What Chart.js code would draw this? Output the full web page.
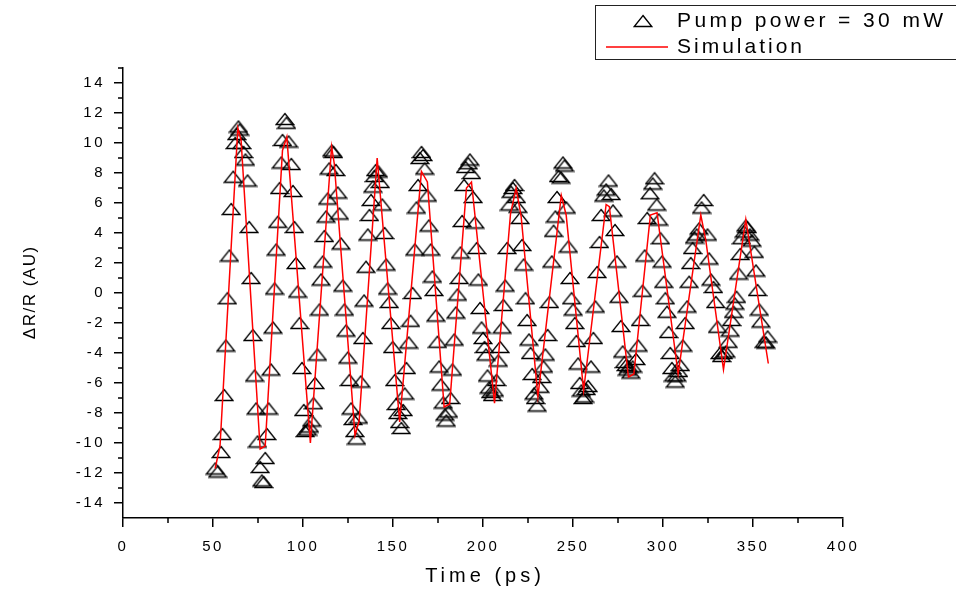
<!DOCTYPE html>
<html>
<head>
<meta charset="utf-8">
<script src="https://cdn.jsdelivr.net/npm/chart.js@4"></script>
<style>
html,body{margin:0;padding:0;background:#fff;overflow:hidden}
#wrap{width:956px;height:590px;position:relative}
</style>
</head>
<body>
<div id="wrap"><canvas id="c" width="956" height="590"></canvas></div>
<script>
// ---- measured data (Time in ps, ΔR/R in arbitrary units) ----
const timePs = [
  51.2,52.6,54.5,55.2,56.2,57.1,58.0,59.1,60.1,61.2,62.3,63.2,64.1,64.8,66.0,67.0,68.0,69.2,70.1,71.2,72.1,73.1,73.9,74.7,76.2,77.1,78.1,79.0,
  79.9,80.9,82.2,83.3,84.2,85.1,86.0,87.0,87.9,88.6,89.9,90.8,92.0,93.5,94.4,95.2,96.1,97.0,98.1,99.4,100.4,101.2,102.5,103.6,104.8,105.8,
  106.7,108.0,109.1,110.0,111.0,111.9,112.8,113.7,114.5,116.0,116.9,118.2,119.3,120.2,121.1,122.1,123.0,123.9,124.9,125.8,126.7,127.8,128.8,129.7,130.8,
  132.1,133.2,133.9,135.0,136.0,136.9,137.8,138.8,139.7,140.4,141.9,142.9,144.0,145.3,146.2,147.0,147.9,148.8,149.8,151.0,151.8,152.7,153.7,154.6,155.6,
  156.5,157.4,158.7,159.7,160.8,162.1,163.0,163.9,164.9,165.8,166.7,167.6,169.1,169.9,171.0,171.9,172.8,173.8,174.7,175.6,176.6,177.9,178.8,179.6,180.8,
  182.0,183.0,184.0,184.9,185.8,186.8,187.5,188.4,189.5,190.3,191.8,192.7,193.6,194.5,195.5,196.5,197.4,198.3,199.2,200.0,200.8,201.6,202.5,203.4,204.3,205.3,206.3,
  207.5,208.5,209.5,210.6,211.3,212.3,213.4,214.7,215.6,216.6,217.5,218.5,219.4,220.6,221.7,222.6,223.6,224.5,225.5,226.4,227.3,228.3,229.2,230.1,
  231.6,232.6,233.6,234.6,235.9,236.9,238.2,239.2,240.2,241.1,242.0,243.3,244.4,245.3,246.3,247.4,248.3,249.2,250.1,251.0,251.9,252.8,253.7,254.6,255.5,256.4,257.3,
  258.4,260.0,261.3,262.4,263.4,264.7,265.6,267.1,268.4,269.7,271.2,272.2,273.3,274.4,275.5,276.6,277.6,278.6,279.5,280.2,281.0,282.1,283.1,
  285.0,286.2,287.5,288.6,289.8,291.2,292.8,294.3,295.3,296.5,297.6,298.6,299.5,300.4,301.3,302.2,303.1,304.0,304.9,305.8,306.8,307.7,308.6,
  309.6,311.0,312.3,313.4,314.5,315.4,316.4,317.5,318.7,320.0,321.4,322.6,324.7,325.6,326.6,328.0,329.3,330.3,331.6,332.6,333.5,
  334.9,336.2,337.3,338.1,339.2,339.9,340.8,342.0,342.9,343.6,345.1,346.0,346.8,348.2,349.4,350.7,351.6,352.5,353.5,354.4,356.2,357.2,358.1
];
const deltaRR = [
  -11.7,-11.9,-10.6,-9.4,-6.8,-3.5,-0.35,2.5,5.6,7.75,10.0,10.6,11.1,10.9,10.0,9.4,8.9,7.5,4.4,1.0,-2.8,-5.5,-7.7,-9.9,-11.6,-12.5,-12.6,-11.0,
  -9.4,-7.7,-5.1,-2.3,0.3,2.9,4.75,7.0,8.7,10.2,11.6,11.35,10.1,8.6,6.8,4.4,2.0,0.1,-2.0,-5.0,-7.8,-9.2,-9.1,-8.9,-8.5,-7.35,
  -6.0,-4.1,-1.1,0.9,2.1,3.8,5.1,6.3,8.3,9.5,9.4,8.2,6.7,5.3,3.3,0.5,-1.1,-2.5,-4.3,-5.8,-7.7,-8.4,-9.2,-9.7,-8.3,
  -5.9,-3.0,-0.5,1.75,3.9,5.2,6.2,7.1,7.8,8.2,8.1,7.4,5.9,4.0,1.9,0.3,-0.6,-2.0,-3.6,-5.8,-7.4,-8.0,-8.6,-9.0,-7.8,
  -6.7,-5.0,-3.3,-1.85,0.0,2.9,5.7,7.2,9.0,9.4,9.2,8.3,6.5,4.5,2.9,1.1,0.2,-1.5,-3.25,-4.9,-6.1,-7.3,-8.1,-8.5,-7.9,
  -7.0,-5.1,-3.1,-1.3,-0.1,1.0,2.7,4.8,7.2,8.4,8.65,8.9,8.0,6.4,4.7,3.0,0.9,-1.0,-2.3,-3.0,-3.6,-4.1,-5.5,-6.3,-6.6,-6.8,-6.5,
  -5.8,-4.5,-3.6,-2.3,-0.8,0.5,3.0,5.9,6.75,7.0,7.2,6.4,5.75,5.0,3.2,1.9,-0.35,-1.8,-3.1,-4.0,-5.4,-6.7,-7.0,-7.5,
  -6.25,-5.6,-4.9,-4.1,-2.8,-0.6,2.1,4.15,5.1,6.4,7.8,7.7,8.7,8.5,5.7,3.1,1.0,-0.35,-1.1,-2.0,-3.2,-4.7,-6.0,-6.5,-7.0,-6.9,-6.4,
  -6.2,-4.9,-3.0,-0.9,1.4,3.4,5.2,6.5,6.9,7.5,6.6,5.5,4.2,2.1,-0.25,-2.2,-3.9,-4.6,-4.8,-5.1,-4.9,-5.3,-4.9,
  -4.4,-3.5,-1.8,0.15,2.5,5.0,6.65,7.3,7.65,5.9,4.9,3.65,2.1,0.75,-0.35,-1.25,-2.6,-4.0,-5.0,-5.5,-5.9,-5.5,-5.2,
  -4.8,-3.5,-2.0,-0.9,0.75,2.0,3.0,3.7,3.9,4.3,5.7,6.2,3.9,2.3,0.9,0.4,-0.6,-2.25,-4.0,-4.2,-4.0,
  -3.9,-3.25,-2.5,-1.8,-1.25,-0.7,-0.25,1.3,2.6,3.65,4.1,4.5,4.4,3.9,3.5,2.75,1.5,0.2,-1.1,-1.9,-3.25,-3.3,-2.9
];
// ---- simulation curve (vertices) ----
const simTimePs = [51.2,53.9,63.8,65.6,76.2,79.0,88.6,91.0,104.1,115.9,117.4,128.9,131.2,141.2,153.7,165.8,169.1,178.4,181.5,190.8,193.6,206.4,215.3,218.4,221.2,230.5,243.5,246.2,255.9,268.4,270.2,280.8,283.8,293.0,296.7,308.4,321.0,323.8,333.6,346.0,358.5];
const simDeltaRR = [-11.7,-10.2,11.0,10.2,-10.4,-10.2,9.5,10.4,-10.0,9.75,8.6,-9.5,-8.5,9.0,-8.6,8.1,7.4,-7.6,-7.4,7.0,7.4,-7.35,5.3,7.0,5.1,-6.9,6.5,5.2,-6.5,5.9,5.75,-5.6,-5.4,5.2,5.35,-5.4,5.2,3.5,-5.1,4.9,-4.7];
// ---- axis ticks ----
const xTickValues = [0,50,100,150,200,250,300,350,400];
const xMinorTicks = [25,75,125,175,225,275,325,375];
const yTickValues = [-14,-12,-10,-8,-6,-4,-2,0,2,4,6,8,10,12,14];
const yMinorTicks = [-13,-11,-9,-7,-5,-3,-1,1,3,5,7,9,11,13,15];
const xTitle = 'Time (ps)';
const yTitle = '\u0394R/R (AU)';
const seriesLabel = 'Pump power = 30 mW';
const simLabel = 'Simulation';

const FONT = "'Liberation Sans', Arial, Helvetica, sans-serif";

// open triangle symbol
const triangle = (() => {
  const c = document.createElement('canvas');
  c.width = 20; c.height = 14;
  const g = c.getContext('2d');
  g.strokeStyle = '#000';
  g.lineWidth = 1.4;
  g.beginPath();
  g.moveTo(10, 1.5); g.lineTo(18.8, 12.5); g.lineTo(1.2, 12.5); g.closePath();
  g.stroke();
  return c;
})();

function spacedText(ctx, text, x, y, size, spacing, align) {
  ctx.font = size + 'px ' + FONT;
  ctx.letterSpacing = spacing + 'px';
  ctx.textAlign = align;
  ctx.textBaseline = 'middle';
  const dx = align === 'center' ? spacing / 2 : 0;
  ctx.fillText(text, x + dx, y);
}

const deco = {
  id: 'deco',
  beforeDraw(chart) { chart.ctx.letterSpacing = '2.5px'; },
  afterDraw(chart) {
    const ctx = chart.ctx;
    const xs = chart.scales.x, ys = chart.scales.y;
    ctx.save();
    ctx.strokeStyle = '#000';
    ctx.lineWidth = 1.5;
    ctx.beginPath();
    xMinorTicks.forEach(v => {
      const p = xs.getPixelForValue(v);
      ctx.moveTo(p, ys.bottom); ctx.lineTo(p, ys.bottom + 5);
    });
    yMinorTicks.forEach(v => {
      const p = ys.getPixelForValue(v);
      ctx.moveTo(xs.left - 5, p); ctx.lineTo(xs.left, p);
    });
    ctx.stroke();

    ctx.fillStyle = '#000';
    // axis titles
    spacedText(ctx, chart.options.scales.x.title.text, (xs.left + xs.right) / 2, 576, 20, 4, 'center');
    ctx.save();
    ctx.translate(30, (ys.top + ys.bottom) / 2);
    ctx.rotate(-Math.PI / 2);
    spacedText(ctx, chart.options.scales.y.title.text, 0, 0, 17, 1.5, 'center');
    ctx.restore();

    // legend box
    const ds = chart.data.datasets;
    ctx.lineWidth = 1;
    ctx.strokeStyle = '#222';
    ctx.strokeRect(595.5, 5.5, 400, 54);
    ctx.drawImage(triangle, 643 - 10, 21 - 7);
    ctx.strokeStyle = '#ff0000';
    ctx.lineWidth = 1.5;
    ctx.beginPath(); ctx.moveTo(606, 47); ctx.lineTo(668, 47); ctx.stroke();
    spacedText(ctx, ds[1].label, 677, 21, 21, 3.4, 'left');
    spacedText(ctx, ds[0].label, 677, 47, 21, 3, 'left');
    ctx.restore();
  }
};

new Chart(document.getElementById('c'), {
  type: 'scatter',
  data: {
    datasets: [
      {
        label: simLabel,
        data: simTimePs.map((t, i) => ({ x: t, y: simDeltaRR[i] })),
        showLine: true,
        borderColor: '#ff0000',
        borderWidth: 1.5,
        pointRadius: 0,
        tension: 0,
        fill: false,
        order: 0
      },
      {
        label: seriesLabel,
        data: timePs.map((t, i) => ({ x: t, y: deltaRR[i] })),
        showLine: false,
        pointStyle: triangle,
        pointRadius: 8,
        borderColor: '#000',
        backgroundColor: 'rgba(0,0,0,0)',
        order: 1
      }
    ]
  },
  options: {
    responsive: false,
    animation: false,
    devicePixelRatio: 1,
    layout: { padding: { left: 0, right: 113, top: 68, bottom: 0 } },
    plugins: { legend: { display: false }, tooltip: { enabled: false } },
    scales: {
      x: {
        type: 'linear', min: 0, max: 400,
        afterBuildTicks: s => { s.ticks = xTickValues.map(v => ({ value: v })); },
        afterFit: s => { s.height = 72; },
        grid: { drawOnChartArea: false, drawTicks: true, tickLength: 9, color: '#000', lineWidth: 1.5 },
        border: { display: true, color: '#000', width: 1.5 },
        ticks: { color: '#000', font: { family: FONT, size: 15 }, padding: 11, maxRotation: 0, autoSkip: false },
        title: { display: false, text: xTitle }
      },
      y: {
        type: 'linear', min: -15, max: 15,
        afterBuildTicks: s => { s.ticks = yTickValues.map(v => ({ value: v })); },
        afterFit: s => { s.width = 123; },
        grid: { drawOnChartArea: false, drawTicks: true, tickLength: 9, color: '#000', lineWidth: 1.5 },
        border: { display: true, color: '#000', width: 1.5 },
        ticks: { color: '#000', font: { family: FONT, size: 15 }, padding: 9, autoSkip: false },
        title: { display: false, text: yTitle }
      }
    }
  },
  plugins: [deco]
});
</script>
</body>
</html>
